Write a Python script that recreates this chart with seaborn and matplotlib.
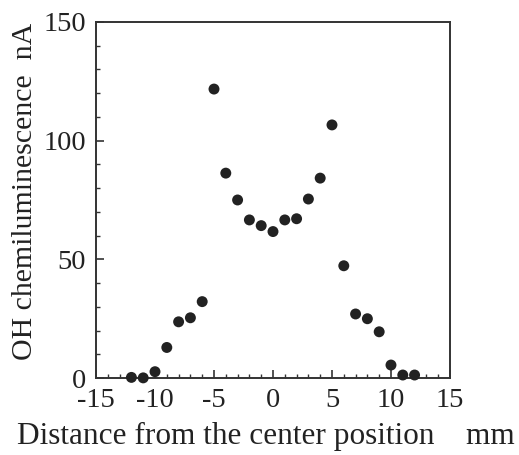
import numpy as np
import pandas as pd
import matplotlib
matplotlib.use("Agg")
import matplotlib.pyplot as plt
import seaborn as sns
from matplotlib.ticker import MultipleLocator

# distance from center (mm) and OH chemiluminescence (nA)
distance = [-12, -11, -10, -9, -8, -7, -6, -5, -4, -3, -2, -1, 0,
            1, 2, 3, 4, 5, 6, 7, 8, 9, 10, 11, 12]
oh_signal = [0.3, 0.1, 2.7, 12.9, 23.7, 25.4, 32.2, 121.7, 86.3, 75.0, 66.6, 64.2, 61.7,
             66.6, 67.1, 75.4, 84.2, 106.6, 47.3, 27.0, 25.0, 19.5, 5.5, 1.3, 1.3]
x_ticks = [-15, -10, -5, 0, 5, 10, 15]

df = pd.DataFrame({"x": distance, "y": oh_signal})

sns.set_style("white")
plt.rcParams["font.family"] = ["Liberation Serif", "DejaVu Serif"]

fig = plt.figure(figsize=(5.19, 4.55), dpi=100)
ax = fig.add_axes([0.185, 0.169, 0.682, 0.783])

sns.scatterplot(data=df, x="x", y="y", ax=ax, color="#222222",
                s=62, edgecolor="none", zorder=3, clip_on=False)

ax.set_xlim(-15, 15)
ax.set_ylim(0, 150)
ax.xaxis.set_minor_locator(MultipleLocator(1))
ax.yaxis.set_major_locator(MultipleLocator(50))
ax.yaxis.set_minor_locator(MultipleLocator(10))
ax.tick_params(which="major", direction="in", length=6, width=1.2,
               labelsize=20.5, color="#333333", labelcolor="#222222",
               top=False, right=False, bottom=True, left=True)
ax.tick_params(axis="y", which="major", pad=7)
ax.tick_params(axis="x", which="major", pad=7)
ax.tick_params(which="minor", direction="in", length=3, width=1,
               color="#333333", top=False, right=False, bottom=True, left=True)
ax.set_xticks(x_ticks)
ax.set_xticklabels([str(t) for t in x_ticks])

for sp in ax.spines.values():
    sp.set_color("#333333")
    sp.set_linewidth(1.4)

ax.set_xlabel("Distance from the center position    mm", fontsize=22.5,
              color="#222222", va="top")
ax.xaxis.set_label_coords(0.48, -0.122)
ax.set_ylabel("OH chemiluminescence  nA", fontsize=21.5, color="#222222")
ax.yaxis.set_label_coords(-0.165, 0.525)

fig.savefig("out.png", dpi=100)
